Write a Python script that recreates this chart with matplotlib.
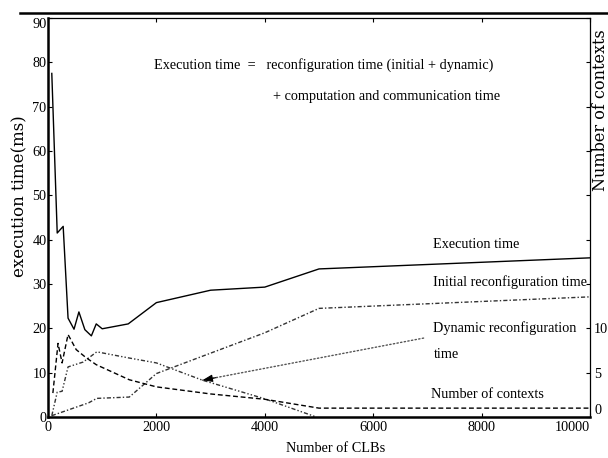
import matplotlib
matplotlib.use("Agg")
from matplotlib import pyplot as plt
from matplotlib.lines import Line2D

# number of CLBs vs. times (ms)
clb_exec = [70, 170, 280, 370, 480, 570, 680, 800, 890, 1000, 1480, 2000, 3000, 4000, 5000, 10000]
t_exec = [77.5, 41.5, 43.0, 22.3, 19.8, 23.7, 19.7, 18.3, 21.0, 19.9, 21.0, 25.8, 28.6, 29.3, 33.4, 35.9]

clb_init = [70, 750, 900, 1500, 2000, 4000, 5000, 10000]
t_init = [0.3, 3.2, 4.2, 4.5, 9.8, 19.0, 24.5, 27.1]

clb_dyn = [70, 170, 260, 370, 650, 900, 1500, 2000, 2850, 4000, 4950]
t_dyn = [0.3, 5.6, 5.8, 11.3, 12.4, 14.7, 13.3, 12.2, 8.3, 4.1, 0.0]

# number of contexts (right axis)
clb_ctx = [90, 185, 260, 370, 520, 700, 890, 1500, 2000, 3000, 4000, 5000, 10000]
n_ctx = [2.7, 8.3, 6.1, 9.3, 7.6, 6.7, 5.9, 4.2, 3.4, 2.6, 2.0, 1.0, 1.0]

xticks = [0, 2000, 4000, 6000, 8000, 10000]
yticks_left = list(range(0, 91, 10))
yticks_right = list(range(0, 46, 5))
yticklabels_right = ["0", "5", "10"] + [""] * 7

serif = "Liberation Serif"
fs = 10.3

fig = plt.figure(figsize=(6.08, 4.58), dpi=100)
ax = fig.add_axes([48 / 608, 41 / 458, 542 / 608, 399 / 458])

ax.plot(clb_exec, t_exec, color="black", lw=1.0)
ax.plot(clb_init, t_init, color="#333333", lw=1.0, dashes=(3, 1.5, 1, 1.5))
ax.plot(clb_dyn, t_dyn, color="#333333", lw=1.0, dashes=(3, 1.5, 1, 1.5, 1, 1.5))

ax.set_xlim(0, 10000)
ax.set_ylim(0, 90)
ax.set_xticks(xticks)
ax.set_yticks(yticks_left)
xl = ax.set_xticklabels([str(v) for v in xticks], family=serif, fontsize=fs)
xl[-1].set_ha("right")
yl = ax.set_yticklabels([str(v) for v in yticks_left], family=serif, fontsize=fs)
yl[-1].set_va("top")
ax.tick_params(direction="in", length=3, width=0.8, top=True, pad=3)
ax.tick_params(axis="y", pad=1)

for s in ["left", "bottom"]:
    ax.spines[s].set_linewidth(1.8)
for s in ["top", "right"]:
    ax.spines[s].set_linewidth(0.9)

ax.set_xlabel("Number of CLBs", family=serif, fontsize=fs, va="center")
ax.xaxis.set_label_coords(0.531, -0.078)
ax.set_ylabel("execution time(ms)", family="DejaVu Serif", fontsize=12,
              va="center", ha="center")
ax.yaxis.set_label_coords(-0.052, 0.554)

ax2 = ax.twinx()
ax2.plot(clb_ctx, n_ctx, color="black", lw=1.0, dashes=(3.5, 2))
ax2.set_ylim(0, 45)
ax2.set_yticks(yticks_right)
rl = ax2.set_yticklabels(yticklabels_right, family=serif, fontsize=fs)
rl[0].set_va("bottom")
ax2.tick_params(direction="in", length=3, width=0.8, pad=3)
ax2.set_ylabel("Number of contexts", family="DejaVu Serif", fontsize=11.5,
               va="center", ha="center", rotation=90)
ax2.yaxis.set_label_coords(1.019, 0.769)
for s in ax2.spines.values():
    s.set_visible(False)

# text labels
ax.text(1960, 79.4, "Execution time  =   reconfiguration time (initial + dynamic)",
        family=serif, fontsize=fs, va="center")
ax.text(4150, 72.2, "+ computation and communication time",
        family=serif, fontsize=fs, va="center")
ax.text(7110, 38.8, "Execution time", family=serif, fontsize=fs, va="center")
ax.text(7110, 30.5, "Initial reconfiguration time", family=serif, fontsize=fs, va="center")
ax.text(7110, 20.1, "Dynamic reconfiguration", family=serif, fontsize=fs, va="center")
ax.text(7110, 14.2, "time", family=serif, fontsize=fs, va="center")
ax.text(7070, 5.0, "Number of contexts", family=serif, fontsize=fs, va="center")

# dotted pointer to the dynamic reconfiguration curve
arrow_tip = (2850, 8.3)
arrow_tail = (6930, 17.8)
ax.annotate("", xy=arrow_tip, xytext=arrow_tail,
            arrowprops=dict(arrowstyle="-", linestyle=":", lw=1.0,
                            color="#555555", shrinkA=0, shrinkB=0))
head_start = (arrow_tip[0] + 0.06 * (arrow_tail[0] - arrow_tip[0]),
              arrow_tip[1] + 0.06 * (arrow_tail[1] - arrow_tip[1]))
ax.annotate("", xy=arrow_tip, xytext=head_start,
            arrowprops=dict(arrowstyle="-|>,head_length=0.6,head_width=0.22",
                            lw=0.8, color="black", shrinkA=0, shrinkB=0))

# rule line above the figure
fig.add_artist(Line2D([20 / 608, 1.0], [1 - 12.5 / 458, 1 - 12.5 / 458],
                      color="black", lw=1.8, transform=fig.transFigure))

fig.savefig("out.png", dpi=100)
